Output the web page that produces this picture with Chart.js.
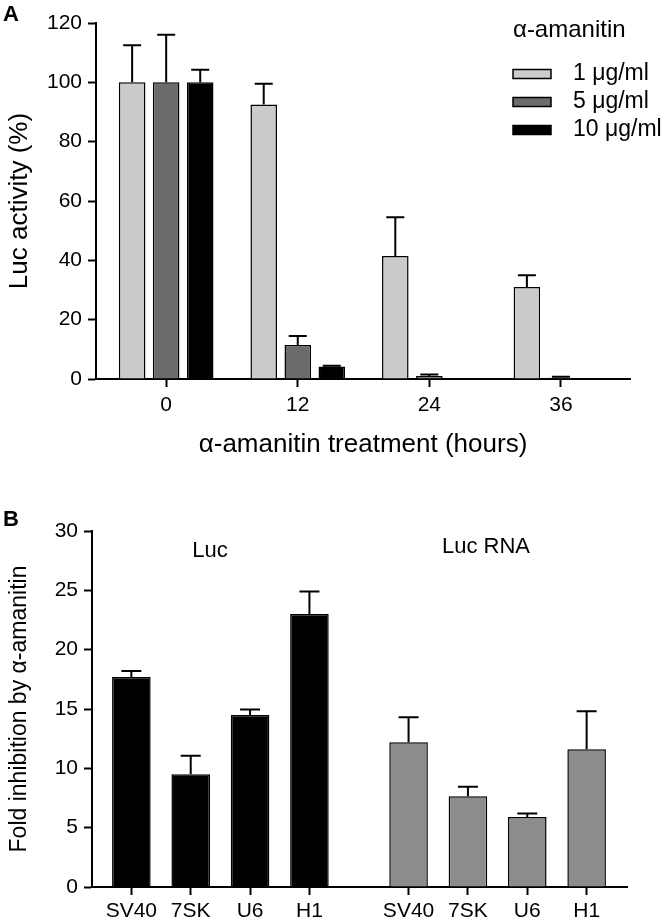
<!DOCTYPE html>
<html lang="en">
<head>
<meta charset="UTF-8">
<title>Luc activity after α-amanitin treatment</title>
<script src="https://cdn.jsdelivr.net/npm/chart.js@4.4.0/dist/chart.umd.min.js"></script>
<style>
  body { margin: 0; background: #fff; }
  .panel { position: absolute; left: 0; width: 664px; height: 462px; }
</style>
</head>
<body>
<div class="panel" style="top:0"><canvas id="chartA" width="664" height="462"></canvas></div>
<div class="panel" style="top:462px"><canvas id="chartB" width="664" height="462"></canvas></div>
<script>
// ---- Panel A: Luc activity (%) vs hours of treatment ----
const hours = [0, 12, 24, 36];
const doseLabels = ['1 μg/ml', '5 μg/ml', '10 μg/ml'];
const dose1 = [100, 92.5, 41.5, 31];
const dose1Err = [12.5, 7, 13, 4];
const dose5 = [100, 11.5, 1.0, 0.4];
const dose5Err = [16, 3, 0.5, 0.4];
const dose10 = [100, 4.2, 0.2, 0];
const dose10Err = [4.2, 0.3, 0, 0];
const doseColors = ['#cbcbcb', '#6b6b6b', '#000000'];

// ---- Panel B: fold inhibition per promoter ----
const promoters = ['SV40', '7SK', 'U6', 'H1'];
const groupNames = ['Luc', 'Luc RNA'];
const lucFold = [17.7, 9.5, 14.5, 23.0];
const lucFoldErr = [0.5, 1.55, 0.45, 1.9];
const rnaFold = [12.2, 7.65, 5.9, 11.6];
const rnaFoldErr = [2.1, 0.8, 0.3, 3.2];
const groupColors = ['#000000', '#8c8c8c'];

const FONT = '"Liberation Sans", Arial, Helvetica, sans-serif';
Chart.defaults.font.family = FONT;
Chart.defaults.color = '#000';

// upper error bars with a cap, drawn from each bar's top
const errorBars = {
  id: 'errorBars',
  afterDatasetsDraw(chart, args, opts) {
    const { ctx } = chart;
    const yScale = chart.scales.y;
    ctx.save();
    ctx.strokeStyle = '#000';
    ctx.lineWidth = 2;
    chart.data.datasets.forEach((ds, di) => {
      const meta = chart.getDatasetMeta(di);
      meta.data.forEach((bar, i) => {
        const err = ds.errors[i];
        if (!err) return;
        const top = yScale.getPixelForValue(ds.data[i].y + err);
        const half = opts.cap / 2;
        ctx.beginPath();
        ctx.moveTo(bar.x, bar.y);
        ctx.lineTo(bar.x, top);
        ctx.moveTo(bar.x - half, top);
        ctx.lineTo(bar.x + half, top);
        ctx.stroke();
      });
    });
    ctx.restore();
  }
};

// free text (panel letters, group names)
const textNotes = {
  id: 'textNotes',
  afterDraw(chart, args, opts) {
    const { ctx } = chart;
    ctx.save();
    ctx.fillStyle = '#000';
    opts.items.forEach(t => {
      ctx.font = (t.bold ? 'bold ' : '') + t.size + 'px ' + FONT;
      ctx.textAlign = t.align || 'left';
      ctx.textBaseline = 'middle';
      ctx.fillText(t.text, t.x, t.y);
    });
    ctx.restore();
  }
};

// legend box list with a title, as in the figure
const boxLegend = {
  id: 'boxLegend',
  afterDraw(chart, args, opts) {
    if (!opts.show) return;
    const { ctx } = chart;
    ctx.save();
    ctx.fillStyle = '#000';
    ctx.textBaseline = 'middle';
    ctx.textAlign = 'left';
    ctx.font = opts.titleSize + 'px ' + FONT;
    ctx.fillText(opts.title, opts.x, opts.titleY);
    ctx.font = opts.size + 'px ' + FONT;
    chart.data.datasets.forEach((ds, i) => {
      const cy = opts.y + i * opts.step;
      ctx.fillStyle = ds.backgroundColor;
      ctx.fillRect(opts.x, cy - 4.5, 38, 9);
      ctx.strokeStyle = '#000';
      ctx.lineWidth = 1.5;
      ctx.strokeRect(opts.x, cy - 4.5, 38, 9);
      ctx.fillStyle = '#000';
      ctx.fillText(ds.label, opts.x + 60, cy);
    });
    ctx.restore();
  }
};

const axisGrid = { drawOnChartArea: false, drawTicks: true, offset: false, tickLength: 8, tickWidth: 2, tickColor: '#000' };
const axisBorder = { color: '#000', width: 2 };

// ---- Chart A ----
const seriesA = [dose1, dose5, dose10];
const errorsA = [dose1Err, dose5Err, dose10Err];

new Chart(document.getElementById('chartA'), {
  type: 'bar',
  data: {
    datasets: seriesA.map((vals, k) => ({
      label: doseLabels[k],
      data: vals.map((v, i) => ({ x: hours[i], y: v })),
      errors: errorsA[k],
      backgroundColor: doseColors[k],
      borderColor: '#000',
      borderWidth: 1.5,
      categoryPercentage: 0.776,
      barPercentage: 0.78
    }))
  },
  options: {
    responsive: false,
    animation: false,
    layout: { padding: { top: 23, right: 34, left: 0, bottom: 0 } },
    plugins: {
      legend: { display: false },
      tooltip: { enabled: false },
      errorBars: { cap: 18 },
      boxLegend: { show: true, title: 'α-amanitin', titleSize: 24, titleY: 30, size: 23, x: 513, y: 74, step: 28 },
      textNotes: { items: [{ text: 'A', x: 3, y: 15, size: 22, bold: true }] }
    },
    scales: {
      x: {
        type: 'linear',
        offset: false,
        min: -6.4,
        max: 42.3,
        afterBuildTicks: s => { s.ticks = hours.map(v => ({ value: v })); },
        afterFit: s => { s.height = 83; },
        border: axisBorder,
        grid: axisGrid,
        ticks: { padding: 6, font: { size: 21 } },
        title: { display: true, text: 'α-amanitin treatment (hours)', font: { size: 26 }, padding: { top: 0, bottom: 2 } }
      },
      y: {
        min: 0,
        max: 120,
        afterFit: s => { s.width = 96; },
        border: axisBorder,
        grid: axisGrid,
        ticks: { stepSize: 20, padding: 6, font: { size: 21 } },
        title: { display: true, text: 'Luc activity (%)', font: { size: 26 }, padding: { top: 4, bottom: 0 } }
      }
    }
  },
  plugins: [errorBars, boxLegend, textNotes]
});

// ---- Chart B ----
const groupGap = 0.67; // extra space between the two promoter groups, in bar slots
const posLuc = promoters.map((p, i) => i);
const posRna = promoters.map((p, i) => promoters.length + groupGap + i);
const allPos = posLuc.concat(posRna);
const seriesB = [lucFold, rnaFold];
const errorsB = [lucFoldErr, rnaFoldErr];
const posB = [posLuc, posRna];

new Chart(document.getElementById('chartB'), {
  type: 'bar',
  data: {
    datasets: seriesB.map((vals, k) => ({
      label: groupNames[k],
      data: vals.map((v, i) => ({ x: posB[k][i], y: v })),
      errors: errorsB[k],
      backgroundColor: groupColors[k],
      borderColor: '#000',
      borderWidth: 1.5,
      grouped: false,
      categoryPercentage: 1,
      barPercentage: 0.65
    }))
  },
  options: {
    responsive: false,
    animation: false,
    layout: { padding: { top: 69, right: 37, left: 0, bottom: 0 } },
    plugins: {
      legend: { display: false },
      tooltip: { enabled: false },
      errorBars: { cap: 20 },
      boxLegend: { show: false },
      textNotes: {
        items: [
          { text: 'B', x: 3, y: 58, size: 22, bold: true },
          { text: groupNames[0], x: 210, y: 89, size: 22, align: 'center' },
          { text: groupNames[1], x: 486, y: 85, size: 22, align: 'center' }
        ]
      }
    },
    scales: {
      x: {
        type: 'linear',
        offset: false,
        min: -0.663,
        max: 8.35,
        afterBuildTicks: s => { s.ticks = allPos.map(v => ({ value: v })); },
        afterFit: s => { s.height = 37; },
        border: axisBorder,
        grid: axisGrid,
        ticks: { padding: 4, font: { size: 21 }, callback: (v, i) => promoters[i % promoters.length] }
      },
      y: {
        min: 0,
        max: 30,
        afterFit: s => { s.width = 92; },
        border: axisBorder,
        grid: axisGrid,
        ticks: { stepSize: 5, padding: 6, font: { size: 21 } },
        title: { display: true, text: 'Fold inhibition by α-amanitin', font: { size: 23 }, padding: { top: 6, bottom: 0 } }
      }
    }
  },
  plugins: [errorBars, boxLegend, textNotes]
});
</script>
</body>
</html>
